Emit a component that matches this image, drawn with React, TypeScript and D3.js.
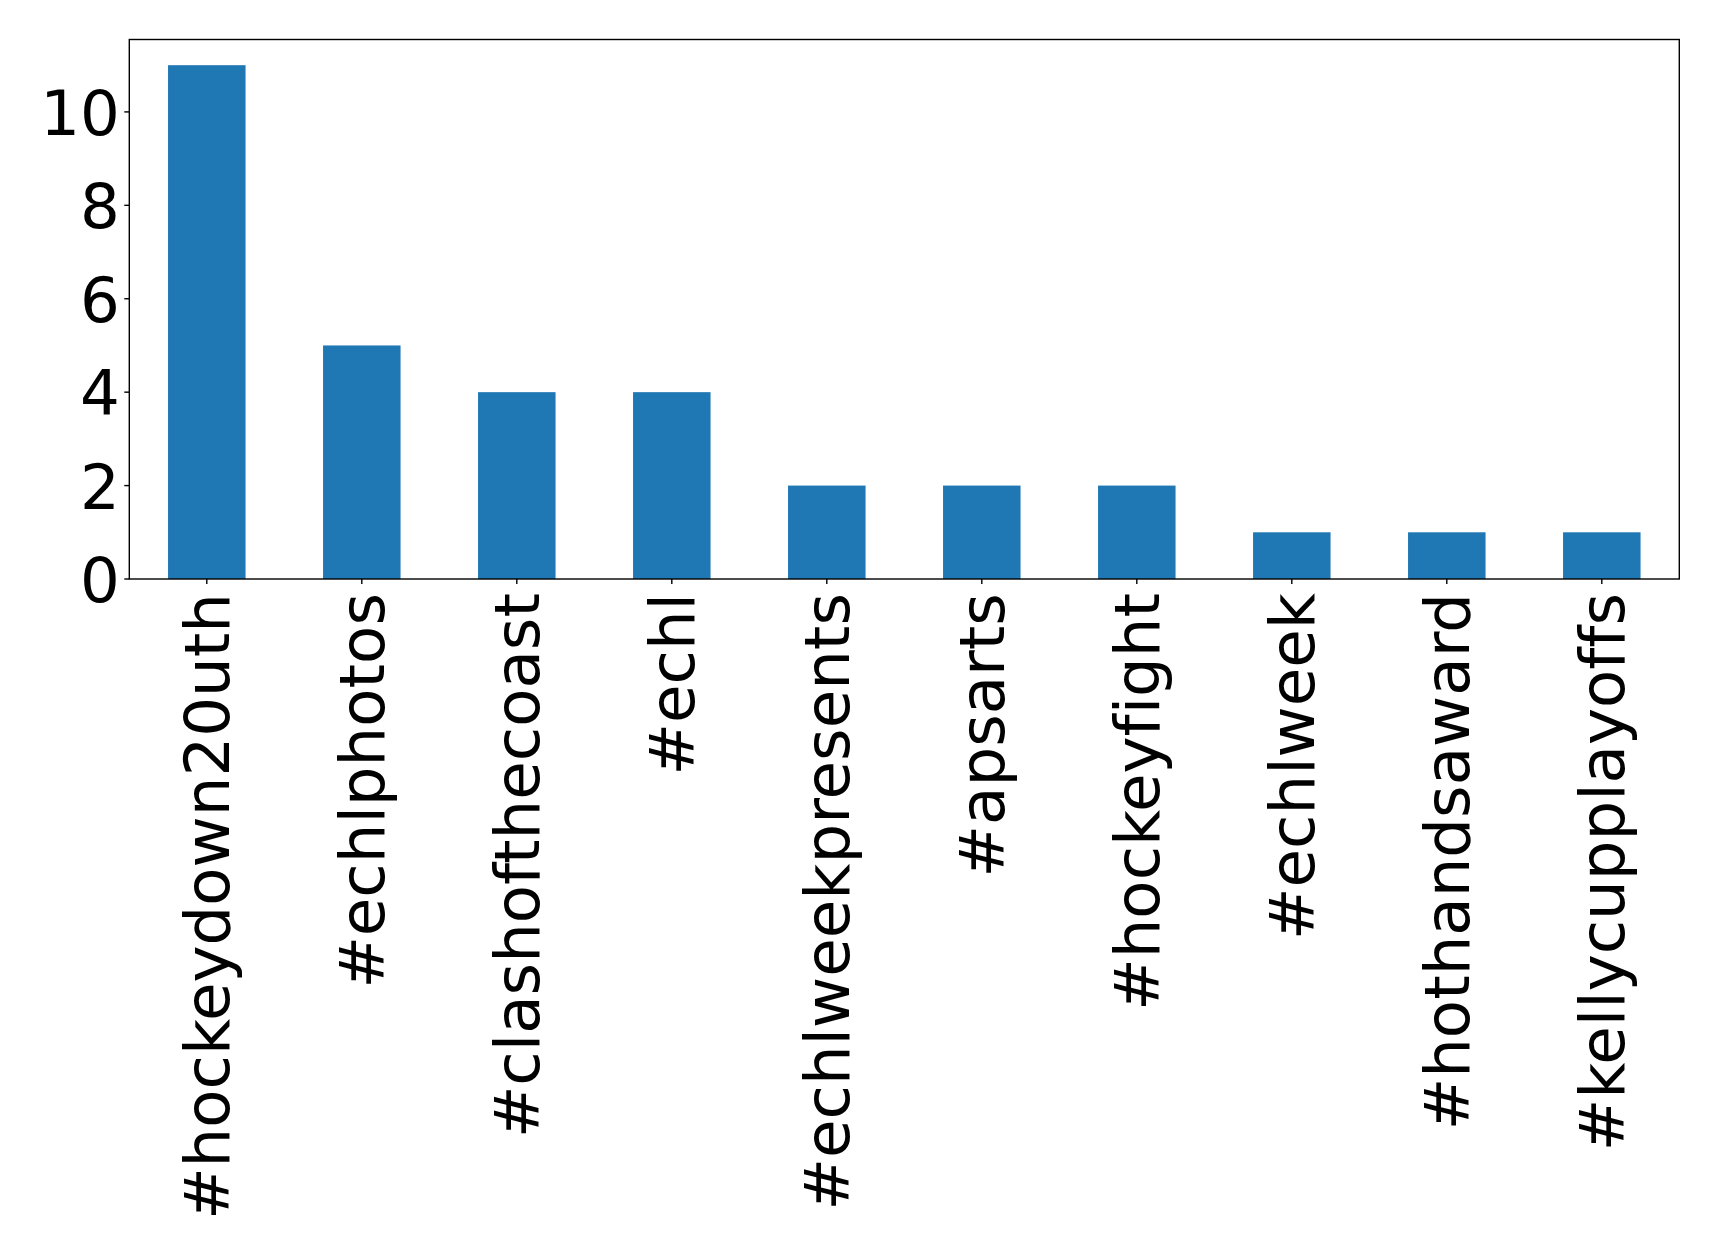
import { useRef, useEffect } from "react";
import * as d3 from "d3";

const categories = [
  "#hockeydown20uth",
  "#echlphotos",
  "#clashofthecoast",
  "#echl",
  "#echlweekpresents",
  "#apsarts",
  "#hockeyfight",
  "#echlweek",
  "#hothandsaward",
  "#kellycupplayoffs",
];
const counts = [11, 5, 4, 4, 2, 2, 2, 1, 1, 1];
const yTicks = [0, 2, 4, 6, 8, 10];

export default function App() {
  const ref = useRef<SVGSVGElement | null>(null);

  useEffect(() => {
    const svg = d3.select(ref.current);
    svg.selectAll("*").remove();

    const width = 1719;
    const height = 1254;
    const margin = { left: 129.3, top: 39.5, right: 1679.3, bottom: 579 };
    const fontSize = 62.6;

    // matplotlib-ish: 0.5 band padding on each end, 5% top margin
    const x = d3
      .scaleBand<string>()
      .domain(categories)
      .range([margin.left, margin.right])
      .paddingInner(0.5)
      .paddingOuter(0.25);
    const y = d3
      .scaleLinear()
      .domain([0, d3.max(counts)! * 1.05])
      .range([margin.bottom, margin.top]);

    svg.append("rect").attr("width", width).attr("height", height).attr("fill", "white");

    svg
      .append("g")
      .selectAll("rect")
      .data(counts)
      .enter()
      .append("rect")
      .attr("x", (_, i) => x(categories[i])!)
      .attr("y", (d) => y(d))
      .attr("width", x.bandwidth())
      .attr("height", (d) => y(0) - y(d))
      .attr("fill", "#1f77b4");

    // frame
    svg
      .append("rect")
      .attr("x", margin.left)
      .attr("y", margin.top)
      .attr("width", margin.right - margin.left)
      .attr("height", margin.bottom - margin.top)
      .attr("fill", "none")
      .attr("stroke", "black")
      .attr("stroke-width", 1.4);

    // y axis
    const yg = svg
      .append("g")
      .attr("font-family", "'DejaVu Sans', sans-serif")
      .style("font-variant-ligatures", "none");
    yTicks.forEach((t) => {
      yg.append("line")
        .attr("x1", margin.left - 5)
        .attr("x2", margin.left)
        .attr("y1", y(t))
        .attr("y2", y(t))
        .attr("stroke", "black")
        .attr("stroke-width", 1.4);
      yg.append("text")
        .attr("x", margin.left - 9.5)
        .attr("y", y(t))
        .attr("dy", "0.37em")
        .attr("text-anchor", "end")
        .style("font-size", `${fontSize}px`)
        .text(t);
    });

    // x axis
    const xg = svg
      .append("g")
      .attr("font-family", "'DejaVu Sans', sans-serif")
      .style("font-variant-ligatures", "none");
    categories.forEach((c) => {
      const cx = x(c)! + x.bandwidth() / 2;
      xg.append("line")
        .attr("x1", cx)
        .attr("x2", cx)
        .attr("y1", margin.bottom)
        .attr("y2", margin.bottom + 5)
        .attr("stroke", "black")
        .attr("stroke-width", 1.4);
      xg.append("text")
        .attr("transform", `translate(${cx},${margin.bottom + 14}) rotate(-90)`)
        .attr("dy", "0.35em")
        .attr("text-anchor", "end")
        .style("font-size", `${fontSize}px`)
        .text(c);
    });
  }, []);

  return (
    <svg
      ref={ref}
      width={1719}
      height={1254}
      style={{ position: "absolute", left: 0, top: 0 }}
    ></svg>
  );
}
